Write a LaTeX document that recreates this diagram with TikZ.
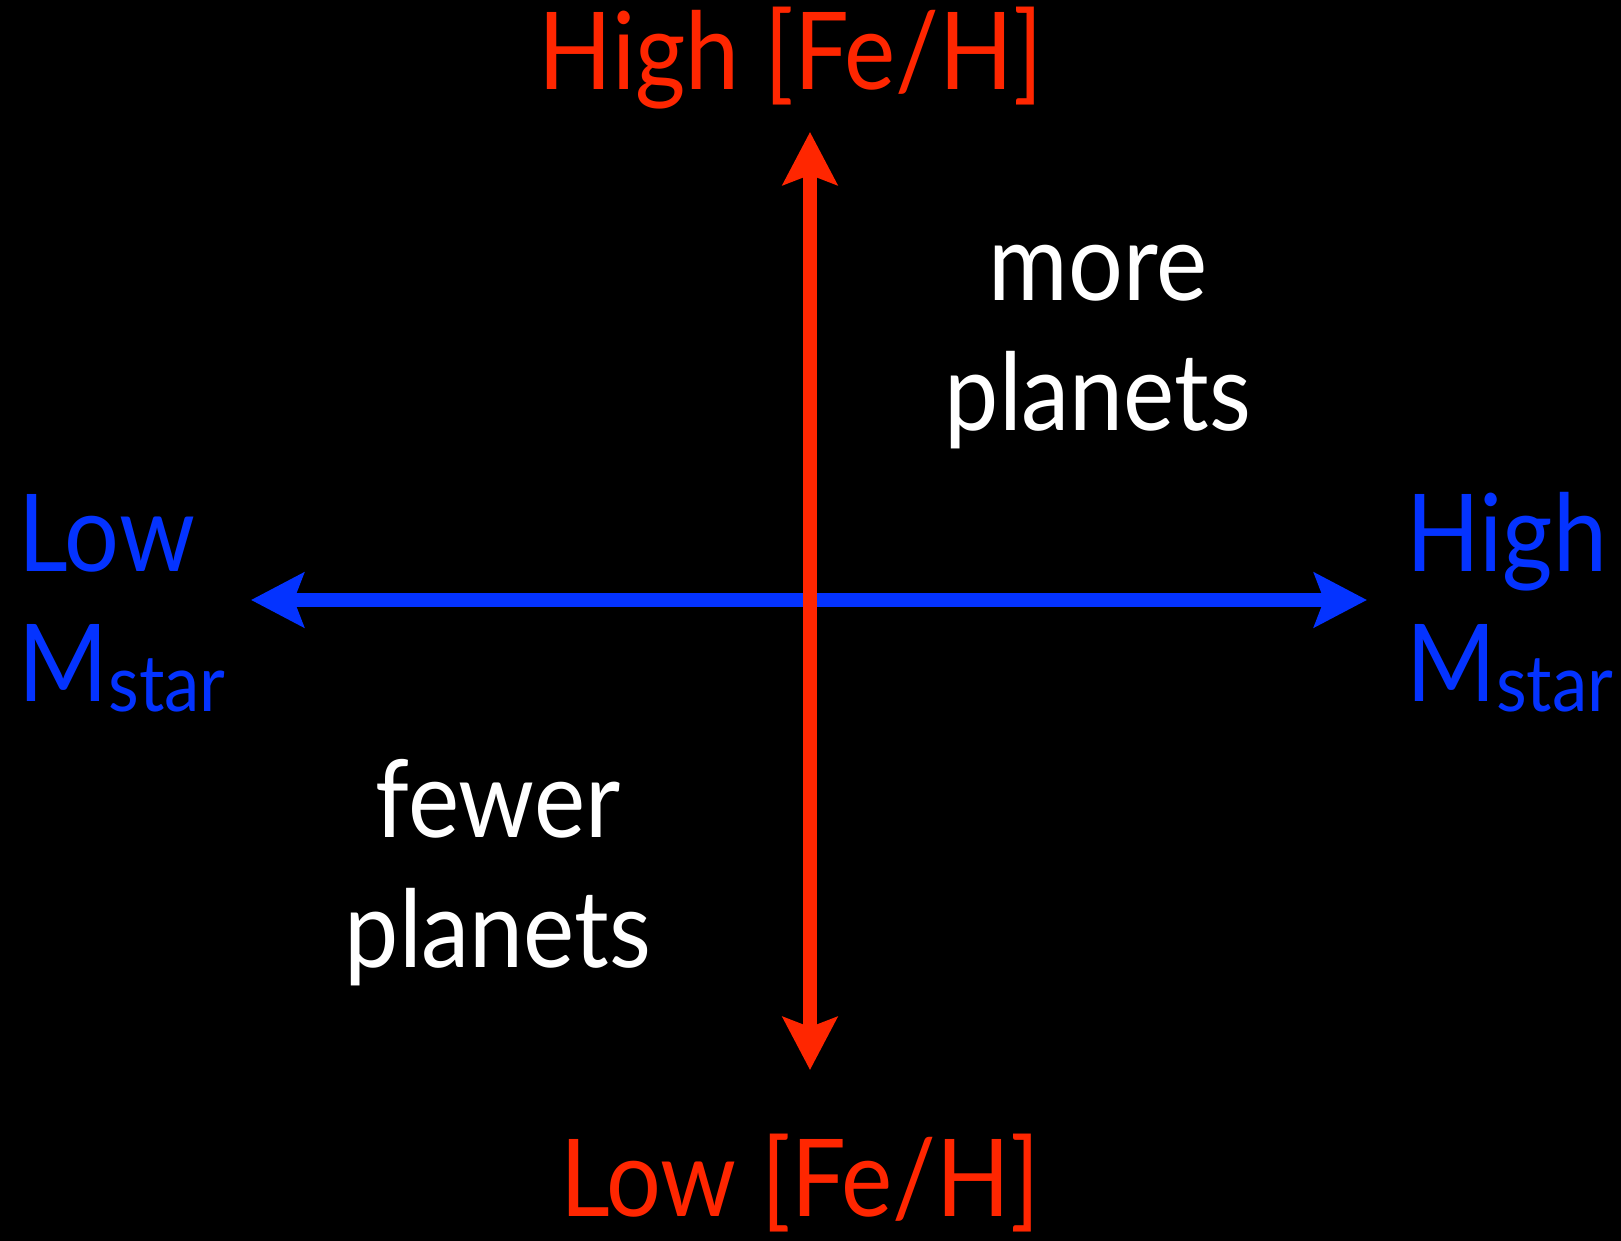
\documentclass[tikz,border=0pt]{standalone}
\usepackage{fontspec}
\setmainfont[FakeStretch=0.9]{Lato}
\usetikzlibrary{arrows.meta}
\definecolor{fehred}{HTML}{FF2600}
\definecolor{massblue}{HTML}{0433FF}
\tikzset{
  axisline/.style={line width=3.98pt, >={Stealth[length=15pt,width=15.4pt,inset=2.8pt]}, <->},
  bigtext/.style={font=\fontsize{30.6}{37}\selectfont, inner sep=0pt},
}
\newcommand{\mstar}{M\raisebox{-2.6pt}{\fontsize{22.4}{22.4}\selectfont star}}

\begin{document}
\begin{tikzpicture}
\fill[black] (0,0) rectangle (16.21,12.41);
\useasboundingbox (0,0) rectangle (16.21,12.41);
%
\coordinate (fehtop) at (8.10,11.09);
\coordinate (fehbot) at (8.10,1.71);
\coordinate (mleft) at (2.51,6.41);
\coordinate (mright) at (13.67,6.41);
%
\draw[axisline, massblue] (mleft) -- (mright);
\draw[axisline, fehred] (fehbot) -- (fehtop);
%
\node[bigtext, fehred, anchor=base] (fehhigh) at (7.91,11.51) {High [Fe/H]};
\node[bigtext, fehred, anchor=base] (fehlow) at (8.00,0.24) {Low [Fe/H]};
\node[bigtext, massblue, anchor=base west, align=left] (masslow) at (0.18,5.39) {Low\\\mstar};
\node[bigtext, massblue, anchor=base east, align=left] (masshigh) at (16.14,5.39) {High\\\mstar};
%
\node[bigtext, white, anchor=base, align=center] (more) at (10.98,8.10) {more\\planets};
\node[bigtext, white, anchor=base, align=center] (fewer) at (4.98,2.73) {fewer\\planets};
\end{tikzpicture}
\end{document}
